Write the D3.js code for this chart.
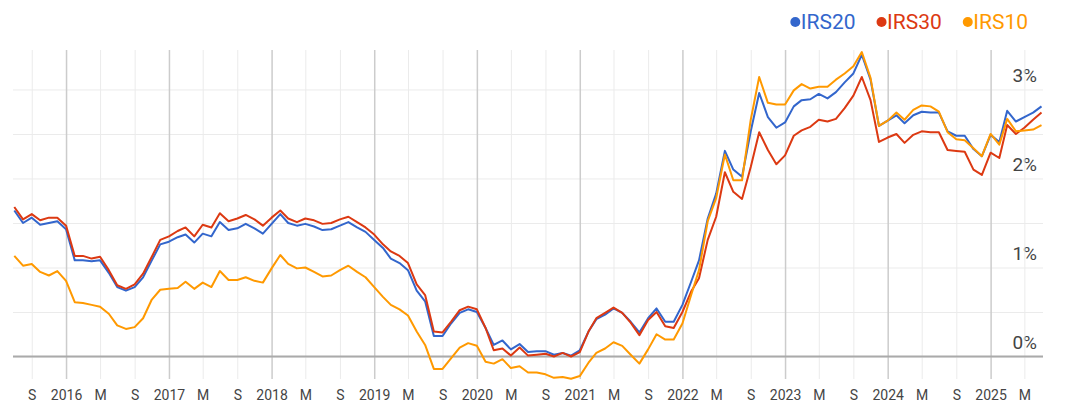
<!DOCTYPE html>
<html>
<head>
<meta charset="utf-8">
<script src="https://cdn.jsdelivr.net/npm/d3@7"></script>
<style>
  body { margin: 0; background: #fff; }
  svg { display: block; font-family: Roboto, Arial, sans-serif; }
</style>
</head>
<body>
<div id="chart"></div>
<script>
// monthly swap rates (%), first of each month, Jul 2015 .. Jul 2025
var startMonth = new Date(2015, 6, 1);
var endMonth = new Date(2025, 6, 1);

var seriesNames = ["IRS20", "IRS30", "IRS10"];
var seriesColors = ["#3366cc", "#dc3912", "#ff9900"];

var irs20 = [1.64, 1.50, 1.56, 1.48, 1.50, 1.52, 1.43, 1.08, 1.08, 1.07, 1.08, 0.94, 0.78, 0.74, 0.78, 0.89, 1.08, 1.26, 1.29, 1.34, 1.37, 1.28, 1.38, 1.35,
  1.51, 1.42, 1.44, 1.49, 1.44, 1.38, 1.49, 1.60, 1.50, 1.47, 1.49, 1.46, 1.42, 1.43, 1.47, 1.51, 1.45, 1.40, 1.31, 1.22, 1.10, 1.05, 0.97, 0.74,
  0.62, 0.23, 0.23, 0.37, 0.49, 0.53, 0.50, 0.32, 0.13, 0.18, 0.08, 0.14, 0.05, 0.06, 0.06, 0.02, 0.04, 0.01, 0.07, 0.28, 0.42, 0.47, 0.54, 0.49,
  0.39, 0.27, 0.43, 0.54, 0.39, 0.39, 0.58, 0.84, 1.08, 1.55, 1.83, 2.31, 2.10, 2.02, 2.53, 2.96, 2.69, 2.57, 2.63, 2.81, 2.88, 2.89, 2.95, 2.90,
  2.97, 3.08, 3.18, 3.39, 3.11, 2.59, 2.65, 2.71, 2.62, 2.71, 2.75, 2.74, 2.74, 2.53, 2.48, 2.48, 2.33, 2.25, 2.49, 2.41, 2.76, 2.64, 2.69, 2.74,
  2.81];

var irs30 = [1.68, 1.54, 1.60, 1.53, 1.56, 1.56, 1.47, 1.13, 1.13, 1.10, 1.12, 0.97, 0.80, 0.76, 0.81, 0.93, 1.12, 1.31, 1.35, 1.41, 1.45, 1.35, 1.48, 1.45,
  1.61, 1.52, 1.55, 1.59, 1.54, 1.47, 1.56, 1.64, 1.55, 1.51, 1.55, 1.53, 1.49, 1.50, 1.54, 1.57, 1.51, 1.45, 1.37, 1.26, 1.18, 1.13, 1.05, 0.81,
  0.69, 0.28, 0.27, 0.39, 0.52, 0.56, 0.53, 0.32, 0.07, 0.09, 0.01, 0.10, 0.01, 0.02, 0.03, 0.00, 0.04, 0.00, 0.05, 0.28, 0.43, 0.49, 0.55, 0.49,
  0.38, 0.24, 0.41, 0.50, 0.34, 0.32, 0.50, 0.73, 0.88, 1.31, 1.57, 2.07, 1.85, 1.77, 2.13, 2.52, 2.32, 2.16, 2.26, 2.48, 2.54, 2.58, 2.66, 2.64,
  2.67, 2.79, 2.93, 3.14, 2.88, 2.41, 2.46, 2.50, 2.40, 2.49, 2.53, 2.52, 2.52, 2.32, 2.31, 2.30, 2.10, 2.04, 2.29, 2.23, 2.60, 2.50, 2.57, 2.66,
  2.74];

var irs10 = [1.13, 1.02, 1.04, 0.95, 0.91, 0.96, 0.85, 0.61, 0.60, 0.58, 0.56, 0.48, 0.35, 0.31, 0.33, 0.43, 0.64, 0.75, 0.76, 0.77, 0.84, 0.76, 0.83, 0.78,
  0.96, 0.86, 0.86, 0.89, 0.85, 0.83, 0.99, 1.14, 1.04, 0.99, 1.00, 0.95, 0.90, 0.91, 0.97, 1.02, 0.95, 0.89, 0.78, 0.67, 0.58, 0.53, 0.46, 0.28,
  0.13, -0.14, -0.14, -0.02, 0.10, 0.15, 0.12, -0.06, -0.08, -0.03, -0.13, -0.11, -0.18, -0.18, -0.20, -0.24, -0.23, -0.25, -0.22, -0.07, 0.04, 0.09, 0.16, 0.12,
  0.02, -0.08, 0.08, 0.25, 0.19, 0.19, 0.37, 0.69, 0.97, 1.52, 1.78, 2.27, 1.98, 1.98, 2.66, 3.14, 2.85, 2.83, 2.83, 2.99, 3.06, 3.01, 3.03, 3.03,
  3.11, 3.18, 3.26, 3.42, 3.13, 2.59, 2.65, 2.74, 2.66, 2.77, 2.82, 2.81, 2.75, 2.52, 2.44, 2.43, 2.34, 2.25, 2.50, 2.38, 2.67, 2.53, 2.54, 2.55,
  2.60];

var yTickValues = [0, 0.5, 1, 1.5, 2, 2.5, 3];
var monthLetters = { 4: "M", 8: "S" };

var svgWidth = 1072, svgHeight = 406;
var plotTop = 50, plotBottom = 379;
var plotLeft = 14.3, plotRight = 1041.5;

var svg = d3.select("#chart").append("svg")
  .attr("width", svgWidth)
  .attr("height", svgHeight);

var months = d3.timeMonth.range(startMonth, d3.timeMonth.offset(endMonth, 1));

var x = d3.scaleTime()
  .domain([startMonth, endMonth])
  .range([plotLeft, plotRight]);

var y = d3.scaleLinear()
  .domain([-0.25, 3.44])
  .range([378.75, 50.3]);

// horizontal gridlines + % labels
var yAxis = d3.axisLeft(y)
  .tickValues(yTickValues)
  .tickSize(plotRight + 1.5 - 13)
  .tickFormat(d => Number.isInteger(d) ? d + "%" : "");

svg.append("g")
  .attr("transform", `translate(${plotRight + 1.5},0)`)
  .call(yAxis)
  .call(g => g.select(".domain").remove())
  .call(g => g.selectAll(".tick line").attr("stroke", "#ebebeb"))
  .call(g => g.selectAll(".tick text")
    .attr("x", -6)
    .attr("dy", -8)
    .attr("fill", "#444")
    .style("font-size", "19px")
    .style("font-family", "Roboto, Arial, sans-serif"));

// vertical gridlines + month labels
var xAxis = d3.axisBottom(x)
  .ticks(d3.timeMonth.every(4))
  .tickSize(plotBottom - plotTop)
  .tickFormat(d => d.getMonth() == 0 ? d.getFullYear() : monthLetters[d.getMonth()]);

svg.append("g")
  .attr("transform", `translate(0,${plotTop})`)
  .call(xAxis)
  .call(g => g.select(".domain").remove())
  .call(g => g.selectAll(".tick line")
    .attr("stroke", d => d.getMonth() == 0 ? "#cccccc" : "#ebebeb")
    .attr("stroke-width", d => d.getMonth() == 0 ? 1.5 : 1))
  .call(g => g.selectAll(".tick text")
    .attr("y", 400 - plotTop)
    .attr("dy", 0)
    .attr("fill", "#444")
    .style("font-size", "14px")
    .style("font-family", "Roboto, Arial, sans-serif"));

// zero baseline
svg.append("line")
  .attr("x1", 13).attr("x2", plotRight + 1.5)
  .attr("y1", y(0)).attr("y2", y(0))
  .attr("stroke", "#aaaaaa")
  .attr("stroke-width", 2);

var lineGen = d3.line()
  .x((d, i) => x(months[i]))
  .y(d => y(d));

[irs20, irs30, irs10].forEach((vals, k) => {
  svg.append("path")
    .datum(vals)
    .attr("fill", "none")
    .attr("stroke", seriesColors[k])
    .attr("stroke-width", 2)
    .attr("stroke-linejoin", "round")
    .attr("d", lineGen);
});

// legend, right aligned
var legend = svg.append("g");
var cursor = 1028;
for (var k = seriesNames.length - 1; k >= 0; k--) {
  var t = legend.append("text")
    .attr("y", 29)
    .attr("fill", seriesColors[k])
    .style("font-size", "21px")
    .text(seriesNames[k]);
  var w = t.node().getComputedTextLength();
  t.attr("x", cursor - w);
  legend.append("circle")
    .attr("cx", cursor - w - 5.5)
    .attr("cy", 22)
    .attr("r", 5)
    .attr("fill", seriesColors[k]);
  cursor = cursor - w - 5.5 - 5 - 21;
}
</script>
</body>
</html>
